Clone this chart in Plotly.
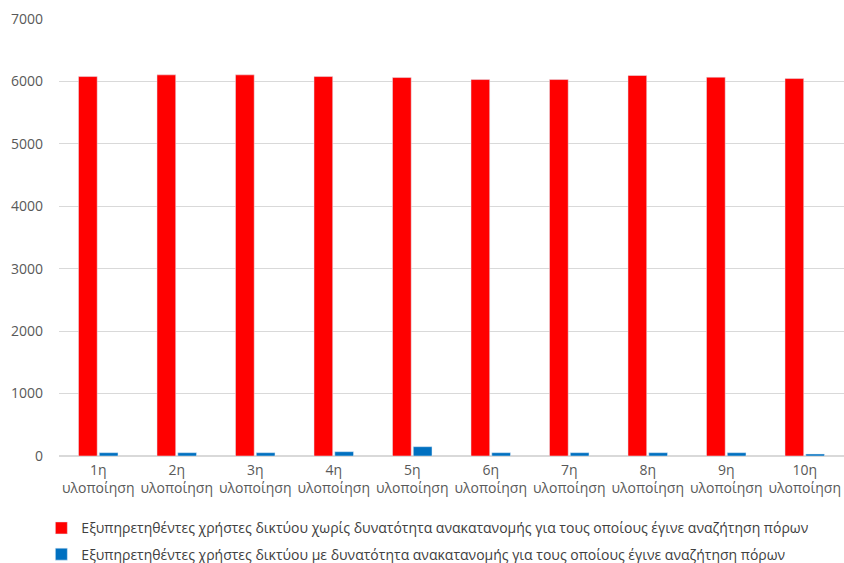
import plotly.graph_objects as go

categories = [f"{i}η<br>υλοποίηση" for i in range(1, 11)]
red_values = [6078, 6105, 6105, 6078, 6062, 6030, 6030, 6095, 6068, 6046]
blue_values = [53, 53, 53, 69, 149, 53, 53, 53, 53, 32]
y_ticks = [0, 1000, 2000, 3000, 4000, 5000, 6000, 7000]
name_red = "Εξυπηρετηθέντες χρήστες δικτύου χωρίς δυνατότητα ανακατανομής για τους οποίους έγινε αναζήτηση πόρων"
name_blue = "Εξυπηρετηθέντες χρήστες δικτύου με δυνατότητα ανακατανομής για τους οποίους έγινε αναζήτηση πόρων"

fig = go.Figure()
fig.add_trace(go.Bar(x=categories, y=red_values, name=name_red, marker_color="#ff0000",
                     legendgroup="a"))
fig.add_trace(go.Bar(x=categories, y=blue_values, name=name_blue, marker_color="#0070c0",
                     legendgroup="b"))

font = dict(family="Open Sans, Liberation Sans, sans-serif", color="#595959", size=14)
fig.update_layout(
    width=844, height=563,
    margin=dict(l=59, r=0, t=19, b=107, autoexpand=False),
    plot_bgcolor="white", paper_bgcolor="white",
    barmode="group", bargap=0.47, bargroupgap=0.1,
    font=font,
    yaxis=dict(range=[0, 7000], tickvals=y_ticks, gridcolor="#d9d9d9", gridwidth=1,
               zeroline=True, zerolinecolor="#d9d9d9", ticks="", tickfont=dict(size=14),
               ticklabelstandoff=15, automargin=False),
    xaxis=dict(ticks="", showline=False, tickfont=dict(size=14), automargin=False,
               ticklabelstandoff=4),
    legend=dict(orientation="v", xref="container", x=0.049, xanchor="left",
                yref="container", y=0.09, yanchor="top",
                font=dict(size=14, color="#404040"), itemwidth=30, tracegroupgap=5),
)
fig.write_html("out.html", config={"displayModeBar": False},
               post_script="document.body.style.margin='0';document.body.style.padding='0';")
